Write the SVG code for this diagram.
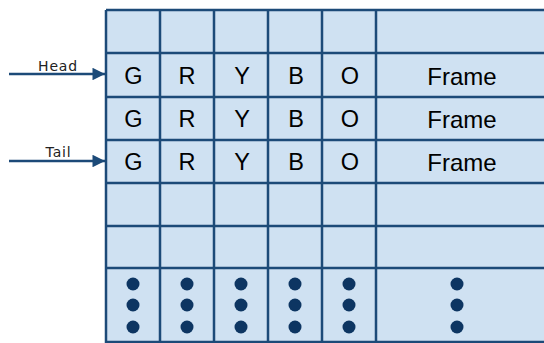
<svg xmlns="http://www.w3.org/2000/svg" width="544" height="343" viewBox="0 0 544 343">
<style>
.grid{stroke:#1c4a78;stroke-width:2.5;fill:none}
.bg{fill:#cfe1f2}
.cell{font-family:"Liberation Sans",Arial,sans-serif;font-size:23.5px;fill:#000;text-anchor:middle}
.frame{font-family:"Liberation Sans",Arial,sans-serif;font-size:24px;fill:#000;text-anchor:middle}
.lbl{font-family:"DejaVu Sans","Liberation Sans",sans-serif;font-size:14px;fill:#222;text-anchor:middle;letter-spacing:0.8px}
.dot{fill:#0d3562}
.arr{stroke:#1c4a78;stroke-width:2.5;fill:none}
</style>
<defs>
<marker id="ah" viewBox="0 0 10 10" refX="10" refY="5" markerWidth="7" markerHeight="5" markerUnits="strokeWidth" orient="auto">
<path d="M0,0 L10,5 L0,10 z" fill="#1c4a78"/>
</marker>
</defs>
<g id="table">
<rect class="bg" x="106" y="10" width="440" height="334"/>
<path class="grid" d="M106,10 H546 M106,53 H546 M106,97 H546 M106,140 H546 M106,183 H546 M106,226 H546 M106,268 H546 M106,342 H546 M106,10 V343 M160,10 V343 M214,10 V343 M268,10 V343 M322,10 V343 M376,10 V343"/>
</g>
<g id="row1">
<text class="cell" x="133.5" y="84">G</text>
<text class="cell" x="187" y="84">R</text>
<text class="cell" x="242" y="84">Y</text>
<text class="cell" x="296" y="84">B</text>
<text class="cell" x="350" y="84">O</text>
<text class="frame" x="462" y="85">Frame</text>
</g>
<g id="row2">
<text class="cell" x="133.5" y="127">G</text>
<text class="cell" x="187" y="127">R</text>
<text class="cell" x="242" y="127">Y</text>
<text class="cell" x="296" y="127">B</text>
<text class="cell" x="350" y="127">O</text>
<text class="frame" x="462" y="128">Frame</text>
</g>
<g id="row3">
<text class="cell" x="133.5" y="170">G</text>
<text class="cell" x="187" y="170">R</text>
<text class="cell" x="242" y="170">Y</text>
<text class="cell" x="296" y="170">B</text>
<text class="cell" x="350" y="170">O</text>
<text class="frame" x="462" y="171">Frame</text>
</g>
<g id="dots">
<circle class="dot" cx="133" cy="284" r="6.5"/><circle class="dot" cx="133" cy="305" r="6.5"/><circle class="dot" cx="133" cy="327" r="6.5"/>
<circle class="dot" cx="187" cy="284" r="6.5"/><circle class="dot" cx="187" cy="305" r="6.5"/><circle class="dot" cx="187" cy="327" r="6.5"/>
<circle class="dot" cx="241" cy="284" r="6.5"/><circle class="dot" cx="241" cy="305" r="6.5"/><circle class="dot" cx="241" cy="327" r="6.5"/>
<circle class="dot" cx="295" cy="284" r="6.5"/><circle class="dot" cx="295" cy="305" r="6.5"/><circle class="dot" cx="295" cy="327" r="6.5"/>
<circle class="dot" cx="349" cy="284" r="6.5"/><circle class="dot" cx="349" cy="305" r="6.5"/><circle class="dot" cx="349" cy="327" r="6.5"/>
<circle class="dot" cx="457" cy="284" r="6.5"/><circle class="dot" cx="457" cy="305" r="6.5"/><circle class="dot" cx="457" cy="327" r="6.5"/>
</g>
<g id="head">
<text class="lbl" x="58" y="71">Head</text>
</g>
<g id="tail">
<text class="lbl" x="58.5" y="157">Tail</text>
</g>
<g id="connectors">
<line class="arr" x1="9" y1="74" x2="105" y2="74" marker-end="url(#ah)"/>
<line class="arr" x1="9" y1="161" x2="105" y2="161" marker-end="url(#ah)"/>
</g>
</svg>
